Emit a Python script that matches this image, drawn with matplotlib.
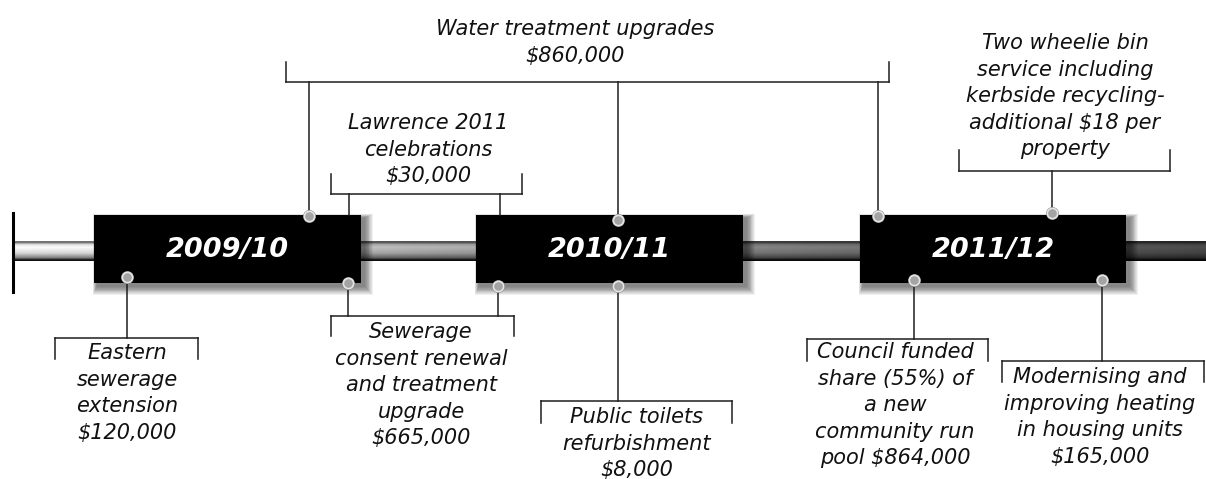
import numpy as np
import matplotlib
matplotlib.use("Agg")
import matplotlib.pyplot as plt
from matplotlib.patches import Rectangle

# years on the timeline
years = ["2009/10", "2010/11", "2011/12"]

# callout texts (one list of lines per callout)
water = ["Water treatment upgrades", "$860,000"]
lawrence = ["Lawrence 2011", "celebrations", "$30,000"]
wheelie = ["Two wheelie bin", "service including", "kerbside recycling-",
           "additional $18 per", "property"]
eastern = ["Eastern", "sewerage", "extension", "$120,000"]
sewerage = ["Sewerage", "consent renewal", "and treatment", "upgrade", "$665,000"]
toilets = ["Public toilets", "refurbishment", "$8,000"]
council = ["Council funded", "share (55%) of", "a new", "community run",
           "pool $864,000"]
heating = ["Modernising and", "improving heating", "in housing units", "$165,000"]

# layout (pixel coords, y downwards)
box_x = [(94, 361), (476, 743), (860, 1126)]
box_y = (215, 283)

# callout layout: lines, text centre x, first line y, bracket x0, x1, bracket y, tick end y,
# drops as (x, y end, dot?)
callouts = [
    (water, 575, 29, 286, 889, 82, 62, [(309, 216, True), (618, 220, True), (878, 216, True)]),
    (lawrence, 428, 123, 331, 522, 194, 174, [(349, 215, False), (500, 215, False)]),
    (wheelie, 1065, 43, 959, 1170, 171, 150, [(1052, 213, True)]),
    (eastern, 127, 353, 55, 198, 338, 359, [(127, 277, True)]),
    (sewerage, 421, 332, 331, 514, 316, 336, [(348, 283, True), (498, 286, True)]),
    (toilets, 637, 417, 541, 732, 401, 423, [(618, 286, True)]),
    (council, 895, 352, 807, 988, 339, 361, [(914, 280, True)]),
    (heating, 1100, 377, 1002, 1204, 361, 382, [(1102, 280, True)]),
]
line_step = 26.6

fig = plt.figure(figsize=(12.06, 4.79), dpi=100)
ax = fig.add_axes([0, 0, 1, 1])
ax.set_xlim(0, 1206)
ax.set_ylim(479, 0)
ax.axis('off')

# timeline tube with shading
W, H = 600, 40
t = np.linspace(0, 1, H)
prof = np.interp(t, [0, 0.08, 0.14, 0.3, 0.6, 0.85, 0.94, 1],
                 [0.45, 0.45, 0.85, 1.0, 0.85, 0.5, 0.1, 0.06])
xs = np.linspace(13, 1206, W)
base = np.interp(xs, [13, 100, 420, 800, 1206], [1.0, 0.98, 0.72, 0.5, 0.3])
val = np.clip(prof[:, None] * base[None, :], 0, 1)
ax.imshow(np.dstack([val, val, val]), extent=(13, 1206, 261, 241), aspect='auto',
          interpolation='bilinear', zorder=1)
ax.plot([13, 13], [213, 292], color='black', lw=2.2, zorder=2)

# boxes with soft shadow
for (x0, x1), label in zip(box_x, years):
    for k in range(1, 11):
        ax.add_patch(Rectangle((x0 + 3 - k * 0.4, box_y[0] + 3 - k * 0.4),
                               x1 - x0 + k * 1.3, box_y[1] - box_y[0] + k * 1.3,
                               color='black', alpha=0.06, lw=0, zorder=2))
    ax.add_patch(Rectangle((x0, box_y[0]), x1 - x0, box_y[1] - box_y[0],
                           color='black', lw=0, zorder=3))
    ax.text((x0 + x1) / 2, (box_y[0] + box_y[1]) / 2 + 1, label, color='white',
            fontsize=19.5, fontweight='bold', fontstyle='italic',
            ha='center', va='center', zorder=5)

# callouts
lc = '#1e1e1e'
for lines, cx, y0, bx0, bx1, by, ty, drops in callouts:
    ax.plot([bx0, bx1], [by, by], color=lc, lw=1.1, zorder=4)
    ax.plot([bx0, bx0], [by, ty], color=lc, lw=1.1, zorder=4)
    ax.plot([bx1, bx1], [by, ty], color=lc, lw=1.1, zorder=4)
    for dx, dy, dot in drops:
        ax.plot([dx, dx], [by, dy], color=lc, lw=1.1, zorder=4)
        if dot:
            ax.scatter([dx], [dy], s=85, color='#777777', linewidth=0, zorder=6)
            ax.scatter([dx], [dy], s=55, color='#a4a4a4', edgecolor='#e6e6e6',
                       linewidth=1.2, zorder=7)
    for i, s in enumerate(lines):
        ax.text(cx, y0 + i * line_step, s, fontsize=15, fontstyle='italic',
                color='#111111', ha='center', va='center', parse_math=False, zorder=5)

fig.savefig('out.png', dpi=100)
